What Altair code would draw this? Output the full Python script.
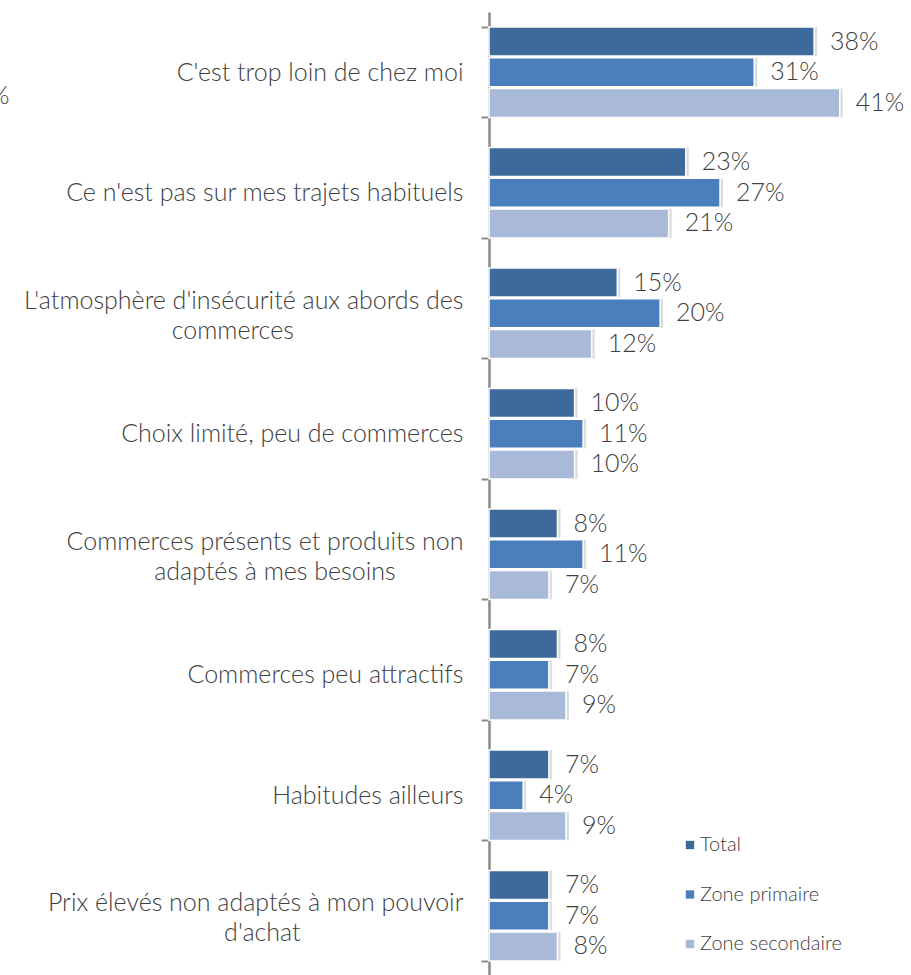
import altair as alt
import pandas as pd

categories = [
    "C'est trop loin de chez moi",
    "Ce n'est pas sur mes trajets habituels",
    "L'atmosphère d'insécurité aux abords des|commerces",
    "Choix limité, peu de commerces",
    "Commerces présents et produits non|adaptés à mes besoins",
    "Commerces peu attractifs",
    "Habitudes ailleurs",
    "Prix élevés non adaptés à mon pouvoir|d'achat",
]
series = ["Total", "Zone primaire", "Zone secondaire"]
total = [38, 23, 15, 10, 8, 8, 7, 7]
primaire = [31, 27, 20, 11, 11, 7, 4, 7]
secondaire = [41, 21, 12, 10, 7, 9, 9, 8]
colors = ["#3e6a9b", "#4a7ebc", "#a9b9d8"]

rows = []
for s, vals in zip(series, [total, primaire, secondaire]):
    for c, v in zip(categories, vals):
        rows.append({"category": c, "serie": s, "value": v, "label": f"{v}%"})
df = pd.DataFrame(rows)

FONT = "Lato"
TXT = "#404040"
W = 300

# second line of a wrapped label is centred under the first one by padding
# it with non-breaking spaces (closed by a zero-width space so it is not trimmed)
label_expr = (
    "length(split(datum.label, '|')) > 1 ? "
    "[split(datum.label, '|')[0], "
    "pad(split(datum.label, '|')[1], length(split(datum.label, '|')[1]) + "
    "round((length(split(datum.label, '|')[0]) - length(split(datum.label, '|')[1])) * 0.8), '\u00a0') + '\u200b'] "
    ": datum.label"
)
multi = "indexof(datum.label, '|') >= 0"

y_enc = alt.Y(
    "category:N",
    sort=categories,
    scale=alt.Scale(paddingInner=0.25, paddingOuter=0.125),
    axis=alt.Axis(
        title=None,
        labelExpr=label_expr,
        labelFont=FONT,
        labelFontSize=25,
        labelFontWeight=W,
        labelColor=TXT,
        labelPadding=18,
        labelLineHeight=30,
        labelLimit=600,
        labelBaseline=alt.condition(multi, alt.value("bottom"), alt.value("middle")),
        tickBand="extent",
        tickSize=8,
        tickWidth=2,
        tickColor="#8a8a8a",
        domainColor="#8a8a8a",
        domainWidth=2.5,
        grid=False,
    ),
)
yoff = alt.YOffset("serie:N", sort=series, scale=alt.Scale(paddingInner=0.06, paddingOuter=0))
x_enc = alt.X("value:Q", scale=alt.Scale(domain=[0, 45]), axis=None)

base = alt.Chart(df).encode(y=y_enc, yOffset=yoff, x=x_enc)

shadow = base.mark_bar(color="#c4c4c4", xOffset=3, x2Offset=3, opacity=0.6)

bars = base.mark_bar(stroke="white", strokeWidth=1.5).encode(
    color=alt.Color(
        "serie:N",
        sort=series,
        scale=alt.Scale(domain=series, range=colors),
        legend=alt.Legend(
            title=None,
            orient="none",
            legendX=191,
            legendY=823,
            symbolType="square",
            symbolSize=70,
            symbolStrokeWidth=0,
            labelFont=FONT,
            labelFontSize=20,
            labelFontWeight=W,
            labelColor=TXT,
            rowPadding=29.5,
            labelOffset=0,
        ),
    )
)

texts = base.mark_text(
    align="left", baseline="middle", dx=16, font=FONT, fontSize=25, fontWeight=W, color=TXT
).encode(text="label:N")

stray = alt.Chart(pd.DataFrame({"t": ["%"]})).mark_text(
    align="left", baseline="middle", font=FONT, fontSize=25, fontWeight=W, color=TXT
).encode(text="t:N", x=alt.value(-499), y=alt.value(84))

chart = (
    alt.layer(shadow, bars, texts, stray)
    .properties(
        width=385,
        height=964,
        autosize=alt.AutoSizeParams(type="none"),
        padding={"left": 489, "top": 12, "right": 37, "bottom": 0},
    )
    .configure_view(stroke=None)
)

chart.save("out.html", embed_options={"renderer": "svg", "actions": False})
